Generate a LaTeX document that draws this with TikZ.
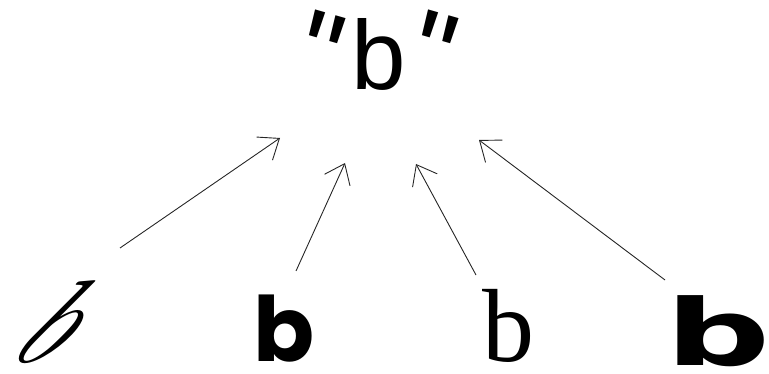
\documentclass[tikz,border=0pt]{standalone}
\usepackage{fontspec}
\usepackage{graphicx}
\usetikzlibrary{arrows.meta}
\setmainfont{Liberation Sans}
\newfontfamily\qfont{Liberation Sans}
\newfontfamily\lmserif{Latin Modern Roman}
\newfontfamily\libserif{Liberation Serif}
\newfontfamily\popfont{Poppins}
\newfontfamily\djfont{DejaVu Sans}
\newcommand{\slq}{\rotatebox{-16}{\scalebox{1.2}[1.25]{\qfont\symbol{34}}}}
\begin{document}
\begin{tikzpicture}[x=1pt,y=-1pt,
  glyph/.style={inner sep=0pt,anchor=base},
  arr/.style={line width=0.9pt,draw=black!85,-{Straight Barb[length=18pt,width=28pt,line width=0.9pt]}}]
\useasboundingbox (0,0) rectangle (769,374);
\node[glyph] (top) at (376,90) {\fontsize{98}{98}\selectfont \slq\hspace{0pt}b\hspace{-5pt}\slq};
\node[glyph,xslant=0.75,transform shape] (g1) at (26,362) {\lmserif\itshape\fontsize{118}{118}\selectfont b};
\node[glyph] (g2) at (284,361) {\popfont\bfseries\fontsize{90}{90}\selectfont b};
\node[glyph] (g3) at (508,361) {\libserif\fontsize{104}{104}\selectfont b};
\node[glyph] (g4) at (718,366) {\scalebox{1.6}[1]{\djfont\bfseries\fontsize{92}{92}\selectfont b}};
\coordinate (s1) at (120,248); \coordinate (t1) at (280,138);
\coordinate (s2) at (296,271); \coordinate (t2) at (345,163);
\coordinate (s3) at (476,275); \coordinate (t3) at (416,164);
\coordinate (s4) at (665,280); \coordinate (t4) at (479,140);
\draw[arr] (s1) -- (t1);
\draw[arr] (s2) -- (t2);
\draw[arr] (s3) -- (t3);
\draw[arr] (s4) -- (t4);
\end{tikzpicture}
\end{document}
